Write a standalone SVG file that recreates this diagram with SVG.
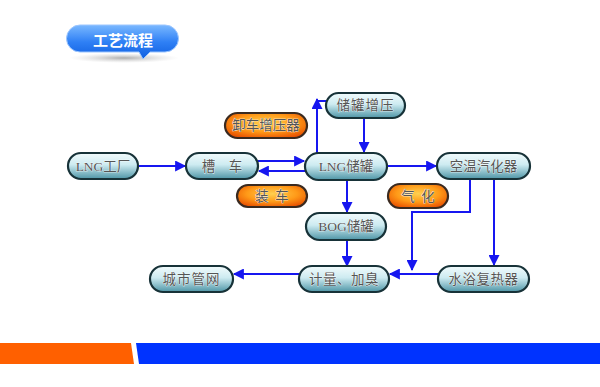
<svg xmlns="http://www.w3.org/2000/svg" width="600" height="387" viewBox="0 0 600 387">
<style>
.n{fill:url(#gb);stroke:#173238;stroke-width:2.2}
.o{fill:url(#go);stroke:#3a2a20;stroke-width:2.2}
.t{font-family:"Liberation Serif","Noto Sans CJK SC",serif;font-size:13.5px;fill:#555;text-anchor:middle;dominant-baseline:central;stroke:#fff;stroke-width:0.6;paint-order:stroke}
.c{fill:none;stroke:#1616f0;stroke-width:2}
</style>
<defs>
<linearGradient id="gb" x1="0" y1="0" x2="0" y2="1">
<stop offset="0" stop-color="#f2fbfc"/><stop offset="0.45" stop-color="#cdebf1"/><stop offset="1" stop-color="#4e95a6"/>
</linearGradient>
<radialGradient id="go" cx="0.5" cy="0.4" r="0.65">
<stop offset="0" stop-color="#ffd050"/><stop offset="0.55" stop-color="#ff9a18"/><stop offset="1" stop-color="#e85000"/>
</radialGradient>
<linearGradient id="gt" x1="0" y1="0" x2="0" y2="1">
<stop offset="0" stop-color="#7ab8ff"/><stop offset="0.5" stop-color="#2f80f5"/><stop offset="1" stop-color="#0f5fe0"/>
</linearGradient>
<radialGradient id="gs" cx="0.5" cy="0.5" r="0.5">
<stop offset="0" stop-color="#999" stop-opacity="0.8"/><stop offset="1" stop-color="#ccc" stop-opacity="0"/>
</radialGradient>
<marker id="a" viewBox="0 0 10 10" refX="9" refY="5" markerWidth="6" markerHeight="5.5" orient="auto" markerUnits="strokeWidth">
<path d="M0,0 L10,5 L0,10 z" fill="#1616f0"/>
</marker>
</defs>
<rect width="600" height="387" fill="#fff"/>
<g id="title">
<ellipse cx="124" cy="58" rx="55" ry="5" fill="url(#gs)"/>
<path d="M80,25 H165 A13.5,13.5 0 0 1 165,52 H150 L143,59 L139,52 H80 A13.5,13.5 0 0 1 80,25 z" fill="url(#gt)" stroke="#9cc6ff" stroke-width="1"/>
<text x="123" y="39" style="font-family:'Noto Sans CJK SC',sans-serif;font-size:15px;font-weight:bold;fill:#fff;text-anchor:middle;dominant-baseline:central">工艺流程</text>
</g>
<g id="connectors">
<line class="c" x1="138" y1="166" x2="185" y2="166" marker-end="url(#a)"/>
<line class="c" x1="258" y1="161" x2="304" y2="161" marker-end="url(#a)"/>
<line class="c" x1="305" y1="171" x2="259" y2="171" marker-end="url(#a)"/>
<path class="c" d="M326,101 H317"/>
<line class="c" x1="317" y1="153" x2="317" y2="99" marker-end="url(#a)"/>
<line class="c" x1="364" y1="118" x2="364" y2="152" marker-end="url(#a)"/>
<line class="c" x1="387" y1="166" x2="436" y2="166" marker-end="url(#a)"/>
<line class="c" x1="347" y1="180" x2="347" y2="212" marker-end="url(#a)"/>
<line class="c" x1="347" y1="240" x2="347" y2="266" marker-end="url(#a)"/>
<line class="c" x1="494" y1="179" x2="494" y2="265" marker-end="url(#a)"/>
<path class="c" d="M470,179 V212 H412 V270" marker-end="url(#a)"/>
<line class="c" x1="438" y1="274" x2="390" y2="274" marker-end="url(#a)"/>
<line class="c" x1="299" y1="274" x2="234" y2="274" marker-end="url(#a)"/>
</g>
<g id="lng-factory"><rect class="n" x="68" y="153" width="70" height="26" rx="13"/><text class="t" x="103" y="166">LNG工厂</text></g>
<g id="tanker"><rect class="n" x="186" y="153" width="72" height="26" rx="13"/><text class="t" x="222" y="166" xml:space="preserve">槽    车</text></g>
<g id="tank-boost"><rect class="n" x="326" y="93" width="79" height="25" rx="12.5"/><text class="t" x="365.5" y="105.5" style="letter-spacing:1px">储罐增压</text></g>
<g id="unload-boost"><rect class="o" x="225" y="113" width="82" height="25" rx="12.5"/><text class="t" x="266" y="125.5">卸车增压器</text></g>
<g id="lng-tank"><rect class="n" x="305" y="153" width="82" height="27" rx="13.5"/><text class="t" x="346" y="166.5">LNG储罐</text></g>
<g id="loading"><rect class="o" x="237" y="185" width="70" height="22" rx="11"/><text class="t" x="272" y="196" xml:space="preserve">装  车</text></g>
<g id="gasify"><rect class="o" x="388" y="184" width="60" height="24" rx="12"/><text class="t" x="418" y="196" xml:space="preserve">气  化</text></g>
<g id="bog-tank"><rect class="n" x="306" y="213" width="80" height="27" rx="13.5"/><text class="t" x="346" y="226.5">BOG储罐</text></g>
<g id="air-vaporizer"><rect class="n" x="437" y="153" width="93" height="26" rx="13"/><text class="t" x="483.5" y="166">空温汽化器</text></g>
<g id="water-heater"><rect class="n" x="438" y="266" width="91" height="26" rx="13"/><text class="t" x="483.5" y="279" style="letter-spacing:0.5px">水浴复热器</text></g>
<g id="metering"><rect class="n" x="299" y="266" width="90" height="26" rx="13"/><text class="t" x="344" y="279" style="letter-spacing:0.5px">计量、加臭</text></g>
<g id="city-grid"><rect class="n" x="150" y="266" width="83" height="26" rx="13"/><text class="t" x="191.5" y="279" style="letter-spacing:1px">城市管网</text></g>
<g id="footer">
<polygon points="0,343 131,343 134,364 0,364" fill="#ff6000"/>
<polygon points="136,343 600,343 600,364 139,364" fill="#0033ff"/>
</g>
</svg>
